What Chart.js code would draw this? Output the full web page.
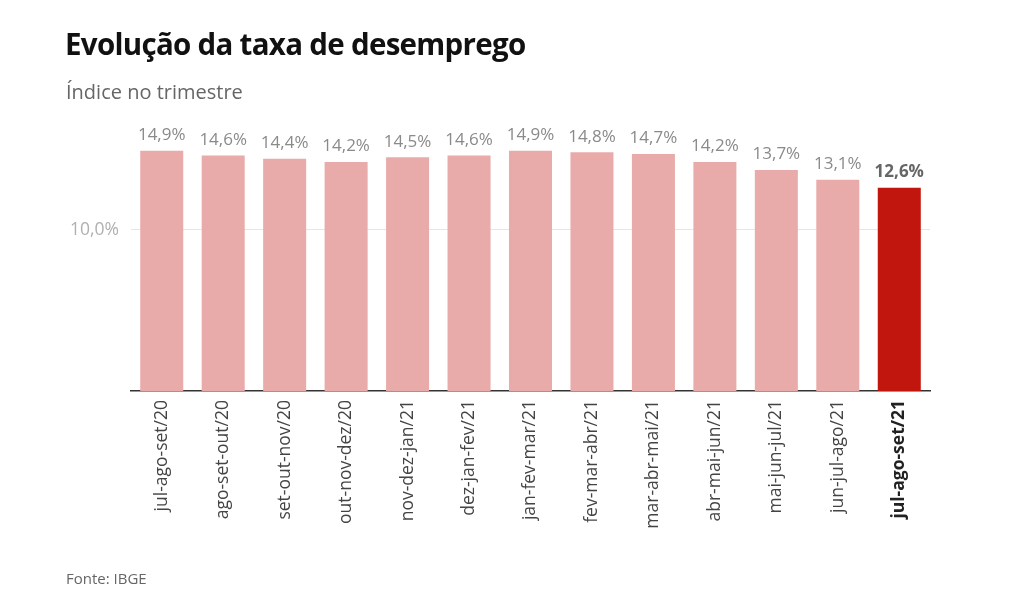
<!DOCTYPE html>
<html>
<head>
<meta charset="utf-8">
<script src="https://cdn.jsdelivr.net/npm/chart.js@4"></script>
<style>
  html, body { margin: 0; padding: 0; background: #fff; }
  body { width: 1024px; height: 608px; position: relative; overflow: hidden; font-family: "Open Sans", sans-serif; }
  #title { position: absolute; left: 65px; top: 23px; font-size: 29.5px; font-weight: 700; color: #111; letter-spacing: -0.7px; margin: 0; }
  #subtitle { position: absolute; left: 66px; top: 78px; font-size: 20px; color: #666; margin: 0; }
  #source { position: absolute; left: 66px; top: 568px; font-size: 15px; color: #666; margin: 0; }
  #wrap { position: absolute; left: 0; top: 0; width: 1024px; height: 608px; }
</style>
</head>
<body>
<div id="wrap"><canvas id="chart"></canvas></div>
<h1 id="title">Evolução da taxa de desemprego</h1>
<p id="subtitle">Índice no trimestre</p>
<p id="source">Fonte: IBGE</p>
<script>
const periods = ["jul-ago-set/20", "ago-set-out/20", "set-out-nov/20", "out-nov-dez/20", "nov-dez-jan/21", "dez-jan-fev/21",
  "jan-fev-mar/21", "fev-mar-abr/21", "mar-abr-mai/21", "abr-mai-jun/21", "mai-jun-jul/21", "jun-jul-ago/21", "jul-ago-set/21"];
const rates = [14.9, 14.6, 14.4, 14.2, 14.5, 14.6, 14.9, 14.8, 14.7, 14.2, 13.7, 13.1, 12.6];
const yTicks = [10];

const last = rates.length - 1;
const fmt = v => v.toFixed(1).replace(".", ",") + "%";

// value labels above each bar
const valueLabels = {
  id: "valueLabels",
  afterDatasetsDraw(chart) {
    const ctx = chart.ctx;
    const meta = chart.getDatasetMeta(0);
    ctx.save();
    ctx.textAlign = "center";
    ctx.textBaseline = "bottom";
    meta.data.forEach((bar, i) => {
      const isLast = i === last;
      ctx.font = (isLast ? "bold " : "") + "17px 'Open Sans'";
      ctx.fillStyle = isLast ? "#666" : "#8a8a8a";
      ctx.fillText(fmt(rates[i]), bar.x, bar.y - 7);
    });
    ctx.restore();
  }
};

new Chart(document.getElementById("chart"), {
  type: "bar",
  data: {
    labels: periods,
    datasets: [{
      data: rates,
      backgroundColor: rates.map((v, i) => i === last ? "#c1160d" : "#e9aba9"),
      barPercentage: 0.7,
      categoryPercentage: 1
    }]
  },
  options: {
    responsive: true,
    maintainAspectRatio: false,
    animation: false,
    layout: { padding: { top: 133, right: 94, bottom: 0, left: 0 } },
    plugins: { legend: { display: false }, tooltip: { enabled: false } },
    scales: {
      x: {
        afterFit: s => { s.height = 217; },
        grid: { display: false, drawTicks: false },
        border: { display: true, color: "#333", width: 1.5 },
        ticks: {
          autoSkip: false,
          maxRotation: 90,
          minRotation: 90,
          padding: 9,
          color: ctx => ctx.index === last ? "#222" : "#444",
          font: ctx => ({ family: "'Open Sans'", size: 17.5, weight: ctx.index === last ? "bold" : "normal" })
        }
      },
      y: {
        min: 0,
        max: 16,
        afterFit: s => { s.width = 131; },
        afterBuildTicks: s => { s.ticks = yTicks.map(v => ({ value: v })); },
        border: { display: false },
        grid: { color: "#e6e6e6", drawTicks: false },
        ticks: {
          padding: 12,
          color: "#b0b0b0",
          font: { family: "'Open Sans'", size: 17.5 },
          callback: v => fmt(v)
        }
      }
    }
  },
  plugins: [valueLabels]
});
</script>
</body>
</html>
